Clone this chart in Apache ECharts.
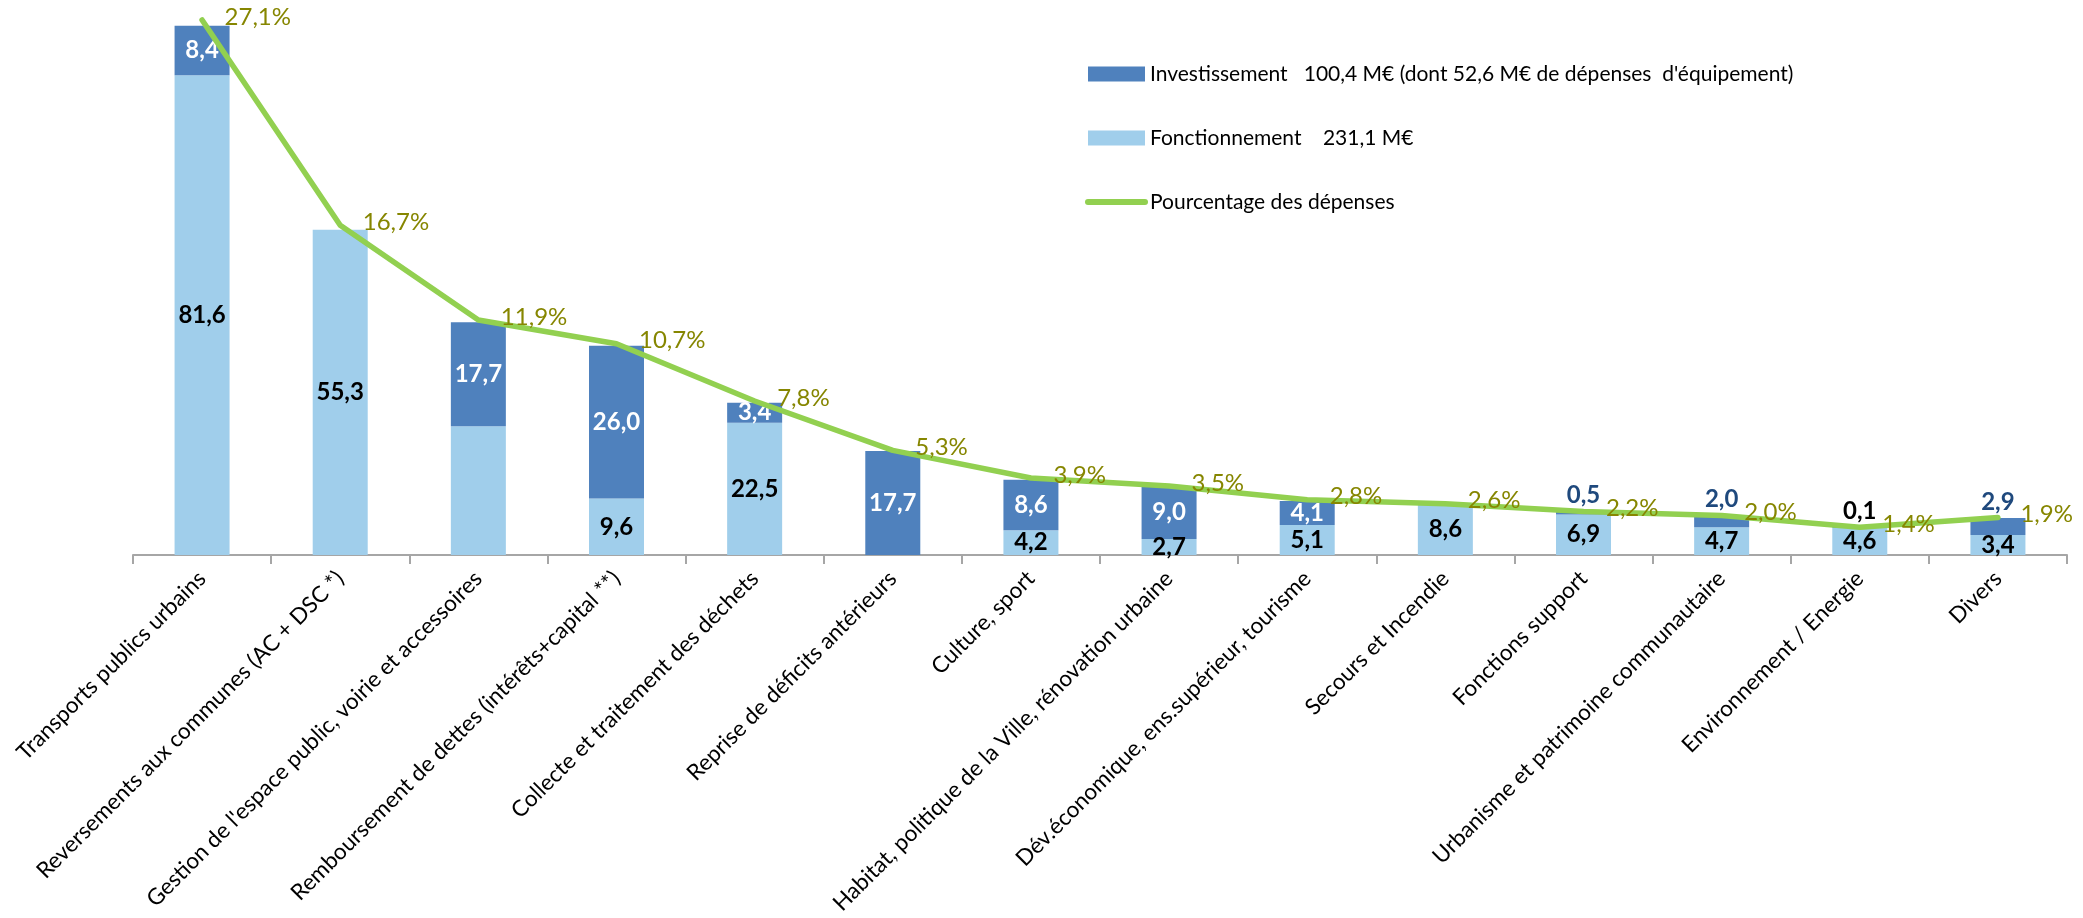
<!DOCTYPE html>
<html>
<head>
<meta charset="utf-8">
<script src="https://cdn.jsdelivr.net/npm/echarts@6/dist/echarts.min.js"></script>
<style>
html,body{margin:0;padding:0;background:#fff;}
#c{width:2083px;height:918px;}
</style>
</head>
<body>
<div id="c"></div>
<script>
const categories = [
  "Transports publics urbains",
  "Reversements aux communes (AC + DSC *)",
  "Gestion de l'espace public, voirie et accessoires",
  "Remboursement de dettes (intérêts+capital **)",
  "Collecte et traitement des déchets",
  "Reprise de déficits antérieurs",
  "Culture, sport",
  "Habitat, politique de la Ville, rénovation urbaine",
  "Dév.économique, ens.supérieur, tourisme",
  "Secours et Incendie",
  "Fonctions support",
  "Urbanisme et patrimoine communautaire",
  "Environnement / Energie",
  "Divers"
];
const fonctionnement = [81.6, 55.3, 21.9, 9.6, 22.5, 0, 4.2, 2.7, 5.1, 8.6, 6.9, 4.7, 4.6, 3.4];
const investissement = [8.4, 0, 17.7, 26.0, 3.4, 17.7, 8.6, 9.0, 4.1, 0, 0.5, 2.0, 0.1, 2.9];
const pourcentage = [27.1, 16.7, 11.9, 10.7, 7.8, 5.3, 3.9, 3.5, 2.8, 2.6, 2.2, 2.0, 1.4, 1.9];

const nameInv = "Investissement   100,4 M€ (dont 52,6 M€ de dépenses  d'équipement)";
const nameFon = "Fonctionnement    231,1 M€";
const namePct = "Pourcentage des dépenses";

const fmt = v => v.toFixed(1).replace('.', ',');
const FONT = 'Lato';
const unlabelledFonct = [2];

const fonData = fonctionnement.map((v, i) => ({
  value: v,
  label: { show: v > 0 && unlabelledFonct.indexOf(i) < 0 }
}));
const invData = investissement.map(v => {
  if (v <= 0) return { value: v, label: { show: false } };
  if (v < 3) return {
    value: v,
    label: { show: true, position: 'top', distance: 4, color: v < 0.3 ? '#000000' : '#1F497D' }
  };
  return { value: v, label: { show: true, position: 'inside', color: '#ffffff' } };
});

const chart = echarts.init(document.getElementById('c'), null, { renderer: 'canvas' });
chart.setOption({
  animation: false,
  backgroundColor: '#ffffff',
  grid: { left: 133, right: 16, top: 14, bottom: 363, containLabel: false },
  legend: {
    orient: 'vertical',
    left: 1080,
    top: 57,
    itemWidth: 57,
    itemHeight: 15,
    itemGap: 40,
    data: [
      { name: nameInv, icon: 'rect' },
      { name: nameFon, icon: 'rect' },
      { name: namePct, itemStyle: { opacity: 0 }, lineStyle: { width: 6, color: '#92D050', cap: 'round' } }
    ],
    textStyle: { fontFamily: FONT, fontSize: 21, color: '#000', lineHeight: 24 }
  },
  xAxis: {
    type: 'category',
    data: categories,
    boundaryGap: true,
    axisLine: { show: true, lineStyle: { color: '#A6A6A6', width: 2 } },
    axisTick: { show: true, alignWithLabel: false, length: 9, lineStyle: { color: '#A6A6A6', width: 2 } },
    axisLabel: {
      interval: 0, rotate: 45, margin: 20,
      fontFamily: FONT, fontSize: 22.5, color: '#000'
    }
  },
  yAxis: [
    { type: 'value', min: 0, max: 92, show: false, splitLine: { show: false } },
    { type: 'value', min: 0, max: 27.4, show: false, splitLine: { show: false } }
  ],
  series: [
    {
      name: nameFon, type: 'bar', stack: 'total', barWidth: 55,
      itemStyle: { color: '#A0CEEB' },
      label: {
        show: true, position: 'inside', color: '#000',
        fontFamily: FONT, fontWeight: 'bold', fontSize: 24,
        formatter: p => fmt(p.value)
      },
      data: fonData
    },
    {
      name: nameInv, type: 'bar', stack: 'total', barWidth: 55,
      itemStyle: { color: '#4F81BD' },
      label: {
        show: true, position: 'inside', color: '#fff',
        fontFamily: FONT, fontWeight: 'bold', fontSize: 24,
        formatter: p => fmt(p.value)
      },
      data: invData
    },
    {
      name: namePct, type: 'line', yAxisIndex: 1, clip: false,
      symbol: 'circle', symbolSize: 1, showSymbol: true,
      itemStyle: { color: '#92D050' },
      lineStyle: { color: '#92D050', width: 5.5, cap: 'round', join: 'round' },
      z: 5,
      label: {
        show: true, position: 'right', distance: 22, offset: [0, -3],
        color: '#868600', fontFamily: FONT, fontSize: 24,
        formatter: p => fmt(p.value) + '%'
      },
      data: pourcentage
    }
  ]
});
</script>
</body>
</html>
